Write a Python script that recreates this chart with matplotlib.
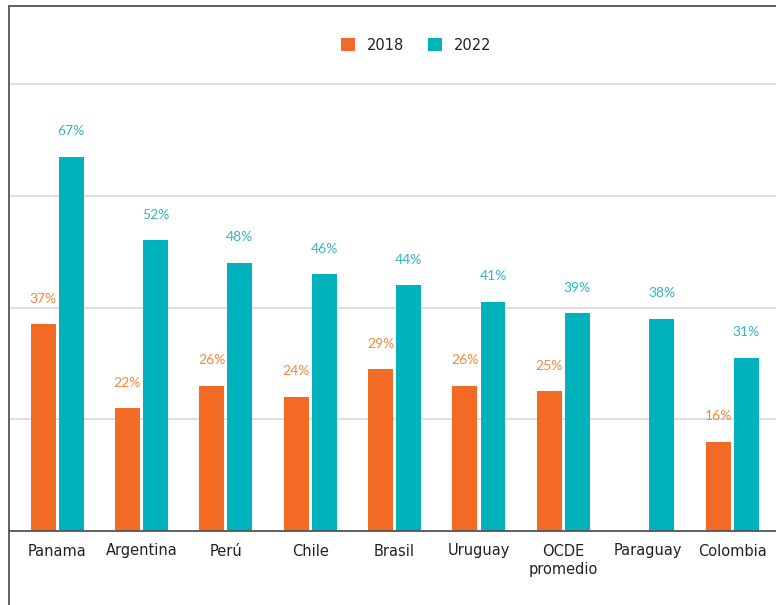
import numpy as np
import matplotlib.pyplot as plt
from matplotlib.lines import Line2D

# data
countries = ['Panama', 'Argentina', 'Perú', 'Chile', 'Brasil', 'Uruguay',
             'OCDE\npromedio', 'Paraguay', 'Colombia']
values_2018 = [37, 22, 26, 24, 29, 26, 25, np.nan, 16]
values_2022 = [67, 52, 48, 46, 44, 41, 39, 38, 31]

orange = '#F26A24'
teal = '#00B2BC'
orange_txt = '#F5883E'
teal_txt = '#35B6C0'

plt.rcParams['font.family'] = ['DejaVu Sans']

fig = plt.figure(figsize=(7.76, 6.05), dpi=100)
# axes: left x=9, right x=776, baseline y=531, 80% gridline at y=84
ax = fig.add_axes([9 / 776, 1 - 531 / 605, 767 / 776, (531 - 80) / 605])

x = np.arange(len(countries))
w = 0.296
off = 0.166

b1 = ax.bar(x - off, values_2018, w, color=orange, label='2018', zorder=3)
b2 = ax.bar(x + off, values_2022, w, color=teal, label='2022', zorder=3)

for xi, v in zip(x, values_2018):
    if not np.isnan(v):
        ax.annotate(f'{v:.0f}%', (xi - off, v), xytext=(0, 14), textcoords='offset points',
                    ha='center', va='bottom', color=orange_txt, fontsize=10,
                    family='Lato', zorder=4)
for xi, v in zip(x, values_2022):
    ax.annotate(f'{v:.0f}%', (xi + off, v), xytext=(0, 14), textcoords='offset points',
                ha='center', va='bottom', color=teal_txt, fontsize=10,
                family='Lato', zorder=4)

ax.set_xlim(-0.57, 8.52)
ax.set_ylim(0, 80 * 451 / 447)
ax.set_yticks([0, 20, 40, 60, 80])
ax.yaxis.grid(True, color='#D9D9D9', linewidth=1.2, zorder=0)
ax.tick_params(axis='y', left=False, labelleft=False)
ax.tick_params(axis='x', length=0, pad=9, labelsize=10.5, colors='#222222')
ax.set_xticks(x)
ax.set_xticklabels(countries, linespacing=1.3)
for s in ['left', 'right', 'top']:
    ax.spines[s].set_visible(False)
ax.spines['bottom'].set_color('#555555')
ax.spines['bottom'].set_linewidth(1.3)
ax.spines['bottom'].set_zorder(5)

fig.legend(handles=[b1, b2], labels=['2018', '2022'], loc='center',
           bbox_to_anchor=(416 / 776, 1 - 45 / 605), ncol=2, frameon=False,
           fontsize=10.5, handlelength=1.0, handleheight=1.0, handletextpad=0.8,
           columnspacing=1.6, labelcolor='#222222')

# outer frame (top and left edges only)
fig.add_artist(Line2D([9 / 776, 1], [1 - 6 / 605, 1 - 6 / 605], transform=fig.transFigure,
                      color='#555555', linewidth=1.3))
fig.add_artist(Line2D([9 / 776, 9 / 776], [0, 1 - 6 / 605], transform=fig.transFigure,
                      color='#555555', linewidth=1.3))

fig.savefig('out.png', dpi=100)
